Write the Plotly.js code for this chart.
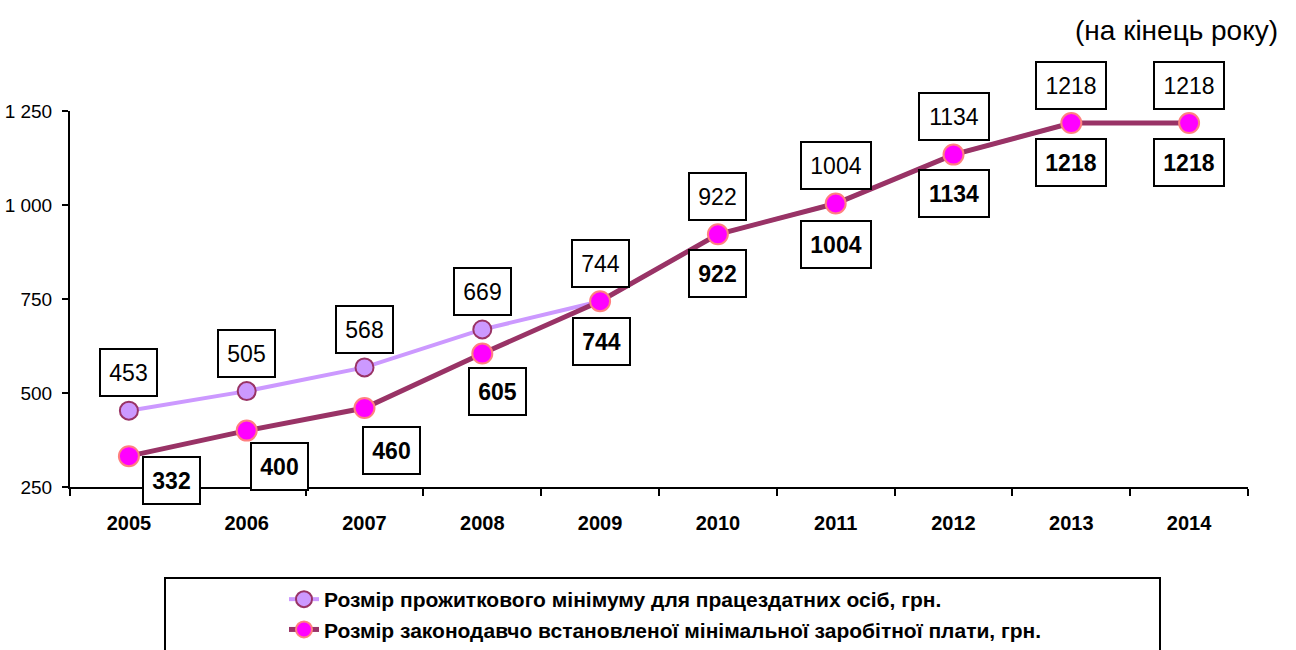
<!DOCTYPE html>
<html>
<head>
<meta charset="utf-8">
<script src="https://cdn.plot.ly/plotly-3.0.1.min.js"></script>
<style>html,body{margin:0;padding:0;background:#fff;}#chart{width:1296px;height:650px;}</style>
</head>
<body>
<div id="chart"></div>
<script>
// ---- data ----
const years = ['2005','2006','2007','2008','2009','2010','2011','2012','2013','2014'];
const subsistence = [453, 505, 568, 669, 744, 922, 1004, 1134, 1218, 1218];
const minWage = [332, 400, 460, 605, 744, 922, 1004, 1134, 1218, 1218];
const nameSubsistence = 'Розмір прожиткового мінімуму для працездатних осіб, грн.';
const nameMinWage = 'Розмір законодавчо встановленої мінімальної заробітної плати, грн.';
const noteText = '(на кінець року)';
const yTicks = [250, 500, 750, 1000, 1250];

// ---- label placement (styling only) ----
const lowXShift = [43, 33, 27, 15, 1, 0, 0, 0, 0, 0];
const lowYShift = [24, 36, 42, 38, 40, 39, 41, 39, 39, 39];

const FONT = 'Liberation Sans, Arial, sans-serif';
const W = 1296, H = 650;

const traces = [
  {
    x: years, y: subsistence, name: nameSubsistence, type: 'scatter', mode: 'lines+markers',
    line: {color: '#CC99FF', width: 4},
    marker: {size: 18, color: '#CC99FF', line: {color: '#993366', width: 2}},
    cliponaxis: false, legendgroup: 'a'
  },
  {
    x: years, y: minWage, name: nameMinWage, type: 'scatter', mode: 'lines+markers',
    line: {color: '#993366', width: 5},
    marker: {size: 20, color: '#FF00FF', line: {color: '#FF8080', width: 2}},
    cliponaxis: false, legendgroup: 'b'
  }
];

const annotations = [];
function boxW(s){ return s.length * 13 + 14; }
years.forEach((yr, i) => {
  const t1 = String(subsistence[i]);
  annotations.push({
    x: i, y: subsistence[i], xref: 'x', yref: 'y', text: t1, showarrow: false,
    yshift: 38, width: boxW(t1), height: 43, bgcolor: '#ffffff',
    bordercolor: '#000', borderwidth: 2, borderpad: 1,
    font: {family: FONT, size: 23, color: '#000'}
  });
  const t2 = String(minWage[i]);
  annotations.push({
    x: i, y: minWage[i], xref: 'x', yref: 'y', text: '<b>' + t2 + '</b>', showarrow: false,
    xshift: lowXShift[i], yshift: -lowYShift[i], width: boxW(t2), height: 43, bgcolor: '#ffffff',
    bordercolor: '#000', borderwidth: 2, borderpad: 1,
    font: {family: FONT, size: 23, color: '#000'}
  });
});
annotations.push({
  xref: 'paper', yref: 'paper', x: 1280 / W, y: 1 - 30 / H, xanchor: 'right', yanchor: 'middle',
  text: noteText, showarrow: false, font: {family: FONT, size: 28, color: '#000'}
});

const layout = {
  width: W, height: H,
  margin: {l: 0, r: 0, t: 0, b: 0, pad: 0},
  paper_bgcolor: '#fff', plot_bgcolor: '#fff',
  separators: ', ',
  font: {family: FONT, color: '#000'},
  showlegend: true,
  legend: {
    x: 284 / W, y: 1 - 579 / H, xanchor: 'left', yanchor: 'top',
    bgcolor: 'rgba(0,0,0,0)', borderwidth: 0,
    font: {family: FONT, size: 21, color: '#000', weight: 'bold'},
    tracegroupgap: 19, traceorder: 'normal'
  },
  xaxis: {
    domain: [70 / W, 1248 / W],
    type: 'category', showgrid: false, zeroline: false, automargin: false,
    showline: true, linecolor: '#000', linewidth: 2,
    ticks: 'outside', ticklen: 7, tickwidth: 2, tickcolor: '#000', tickson: 'boundaries',
    tickfont: {family: FONT, size: 20, color: '#000', weight: 'bold'},
    ticklabelstandoff: 17,
    range: [-0.5, 9.5]
  },
  yaxis: {
    domain: [1 - 487 / H, 1 - 111 / H],
    range: [250, 1250], tickvals: yTicks, separatethousands: true,
    showgrid: false, zeroline: false, automargin: false,
    showline: true, linecolor: '#000', linewidth: 2,
    ticks: 'outside', ticklen: 6, tickwidth: 2, tickcolor: '#000',
    tickfont: {family: FONT, size: 19, color: '#000'},
    ticklabelstandoff: 6
  },
  shapes: [{
    type: 'rect', xref: 'paper', yref: 'paper',
    x0: 165 / W, x1: 1160 / W, y0: 1 - 578 / H, y1: -0.2,
    line: {color: '#000', width: 2}, fillcolor: 'rgba(0,0,0,0)', layer: 'below'
  }],
  annotations: annotations
};

Plotly.newPlot('chart', traces, layout, {displayModeBar: false, staticPlot: true});
</script>
</body>
</html>
